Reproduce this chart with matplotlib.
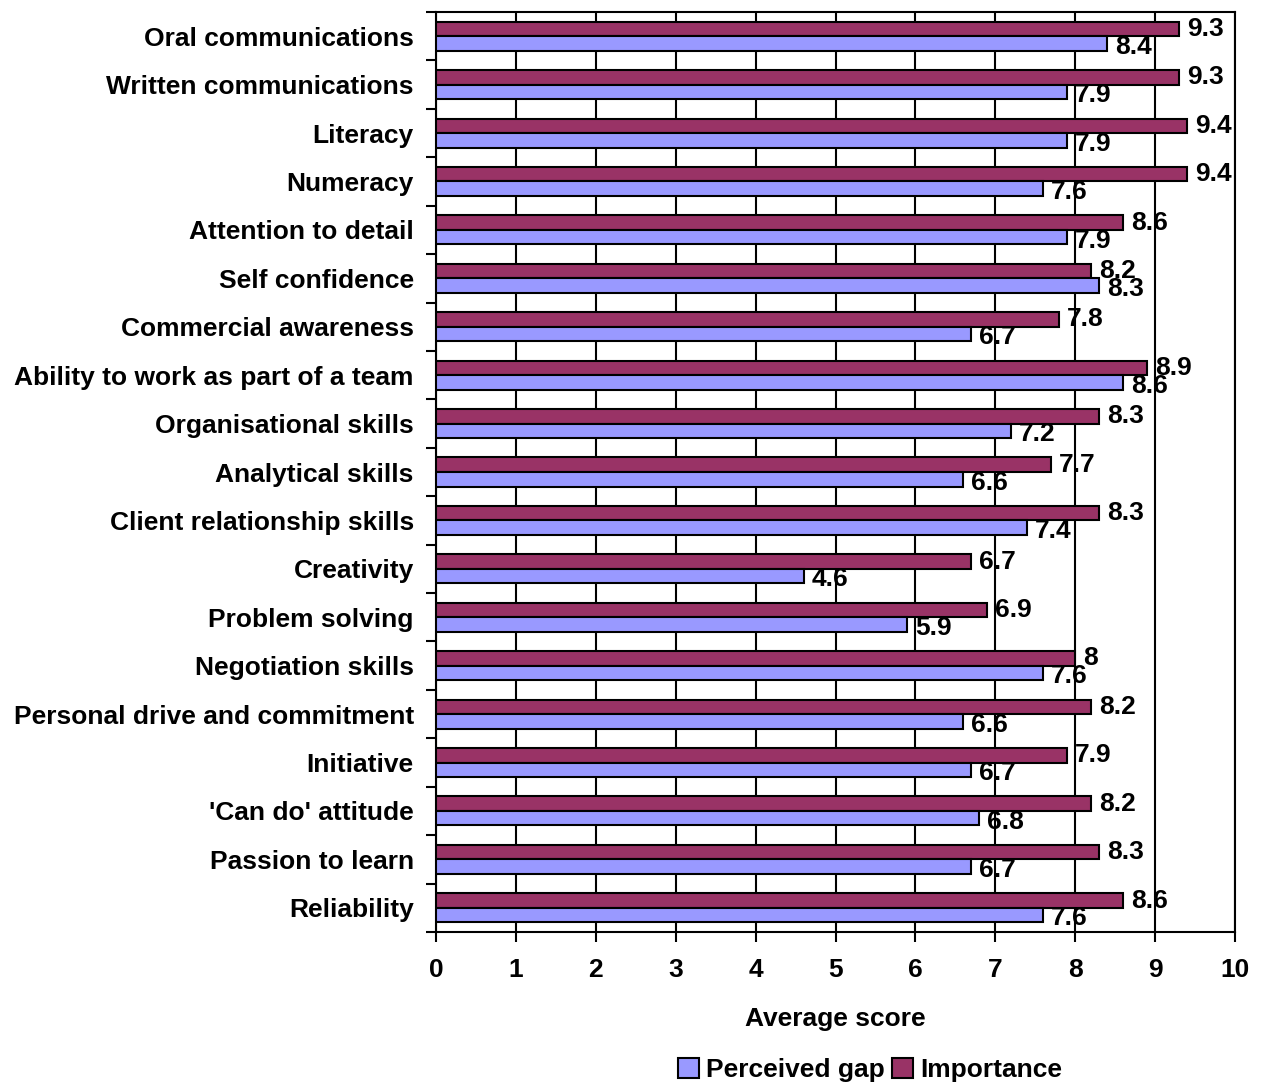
import numpy as np
import matplotlib.pyplot as plt

plt.rcParams['font.family'] = ['Liberation Sans', 'DejaVu Sans']
plt.rcParams['font.weight'] = 'bold'

# data (top to bottom)
skills = ["Oral communications", "Written communications", "Literacy", "Numeracy",
          "Attention to detail", "Self confidence", "Commercial awareness",
          "Ability to work as part of a team", "Organisational skills",
          "Analytical skills", "Client relationship skills", "Creativity",
          "Problem solving", "Negotiation skills", "Personal drive and commitment",
          "Initiative", "'Can do' attitude", "Passion to learn", "Reliability"]
importance = [9.3, 9.3, 9.4, 9.4, 8.6, 8.2, 7.8, 8.9, 8.3, 7.7, 8.3, 6.7, 6.9, 8, 8.2,
              7.9, 8.2, 8.3, 8.6]
perceived_gap = [8.4, 7.9, 7.9, 7.6, 7.9, 8.3, 6.7, 8.6, 7.2, 6.6, 7.4, 4.6, 5.9, 7.6,
                 6.6, 6.7, 6.8, 6.7, 7.6]

fs = 19

fig = plt.figure(figsize=(12.61, 10.84), dpi=100)
ax = fig.add_axes([436/1261, 1-932/1084, 799/1261, 920/1084])

n = len(skills)
y = np.arange(n)
h = 0.3
ax.barh(y - h/2, importance, height=h, color='#993366', edgecolor='black',
        linewidth=1.5, label='Importance', zorder=3)
ax.barh(y + h/2, perceived_gap, height=h, color='#9999FF', edgecolor='black',
        linewidth=1.5, label='Perceived gap', zorder=3)

# value labels (overlapping like in the original)
for i in range(n):
    ax.text(importance[i] + 0.1, y[i] - h/2, f"{importance[i]:g}", va='center',
            ha='left', fontsize=fs, fontweight='bold', zorder=4)
    ax.text(perceived_gap[i] + 0.1, y[i] + h/2 + 0.07, f"{perceived_gap[i]:g}",
            va='center', ha='left', fontsize=fs, fontweight='bold', zorder=4)

ax.set_xlim(0, 10)
ax.set_ylim(n - 0.5, -0.5)
ax.set_xticks(range(11))
ax.set_xticklabels([str(v) for v in range(11)], fontsize=fs, fontweight='bold')
ax.tick_params(axis='x', length=7, width=1.5, pad=12)

ax.set_yticks(y)
ax.set_yticklabels(skills, fontsize=fs, fontweight='bold')
ax.tick_params(axis='y', which='major', length=0, pad=16)
ax.set_yticks(np.arange(n + 1) - 0.5, minor=True)
ax.tick_params(axis='y', which='minor', length=7, width=1.5)

ax.grid(axis='x', color='black', linewidth=1.5, zorder=0)
for s in ax.spines.values():
    s.set_linewidth(1.5)

ax.set_xlabel('Average score', fontsize=fs, fontweight='bold', labelpad=18)

handles, labels = ax.get_legend_handles_labels()
fig.legend(handles[::-1], labels[::-1], loc='center', bbox_to_anchor=(870/1261, 1-1070/1084),
           ncol=2, frameon=False, handlelength=0.8, handleheight=0.8,
           handletextpad=0.25, columnspacing=0.3, prop={'weight': 'bold', 'size': fs})

fig.savefig('out.png', dpi=100)
